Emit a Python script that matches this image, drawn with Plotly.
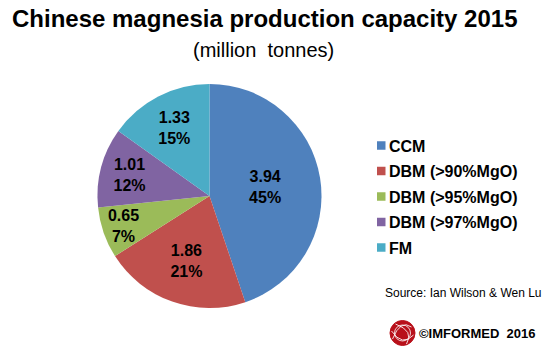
import plotly.graph_objects as go

categories = ["CCM", "DBM (>90%MgO)", "DBM (>95%MgO)", "DBM (>97%MgO)", "FM"]
values = [3.94, 1.86, 0.65, 1.01, 1.33]
pct_labels = ["45%", "21%", "7%", "12%", "15%"]
colors = ["#4F81BD", "#C0504D", "#9BBB59", "#8064A2", "#4BACC6"]

W, H = 551, 359
FONT = "Liberation Sans, Arial, sans-serif"
cx, cy, r = 209.5, 196, 112


def px(x):
    return x / W


def py(y):
    return 1 - y / H


fig = go.Figure(go.Pie(
    labels=categories,
    values=values,
    text=pct_labels,
    texttemplate="%{value:.2f}<br>%{text}",
    textposition="inside",
    insidetextorientation="horizontal",
    textfont=dict(family=FONT, size=16, color="black", weight="bold"),
    marker=dict(colors=colors, line=dict(width=0)),
    sort=False,
    direction="clockwise",
    rotation=0,
    showlegend=False,
    hoverinfo="label+value+percent",
    domain=dict(x=[px(cx - r), px(cx + r)], y=[py(cy + r), py(cy - r)]),
))

annotations = [
    dict(text="<b>Chinese magnesia production capacity 2015</b>", x=px(265), y=py(18.5),
         xanchor="center", yanchor="middle", font=dict(size=24)),
    dict(text="(million  tonnes)", x=px(263.5), y=py(49.5),
         xanchor="center", yanchor="middle", font=dict(size=20)),
    dict(text="Source: Ian Wilson &amp; Wen Lu", x=px(383), y=py(292.5),
         xanchor="left", yanchor="middle", font=dict(size=12)),
    dict(text="<b>©IMFORMED  2016</b>", x=px(417), y=py(333),
         xanchor="left", yanchor="middle", font=dict(size=13)),
]

shapes = []
# custom legend (square swatch + bold label), one row per category
leg_y0, leg_dy = 145.5, 25.5
for i, (name, col) in enumerate(zip(categories, colors)):
    yc = leg_y0 + i * leg_dy
    shapes.append(dict(type="rect", xref="paper", yref="paper",
                       x0=px(377), x1=px(385.5), y0=py(yc + 4.25), y1=py(yc - 4.25),
                       fillcolor=col, line=dict(width=0)))
    annotations.append(dict(text=f"<b>{name}</b>", x=px(387), y=py(yc + 0.5),
                            xanchor="left", yanchor="middle", font=dict(size=16)))

# logo
lx, ly, lr = 402.5, 333, 12.5
shapes += [
    dict(type="circle", xref="paper", yref="paper",
         x0=px(lx - lr), x1=px(lx + lr), y0=py(ly + lr), y1=py(ly - lr),
         fillcolor="#B8101A", line=dict(color="#B8101A", width=1)),
    dict(type="circle", xref="paper", yref="paper",
         x0=px(lx - 8), x1=px(lx + 8), y0=py(ly + 8), y1=py(ly - 8),
         fillcolor="rgba(0,0,0,0)", line=dict(color="rgba(255,255,255,0.8)", width=1)),
    dict(type="path", xref="paper", yref="paper",
         path=f"M {px(lx-10)},{py(ly+6)} Q {px(lx-2)},{py(ly-14)} {px(lx+9)},{py(ly-6)}",
         line=dict(color="rgba(255,255,255,0.85)", width=1)),
    dict(type="path", xref="paper", yref="paper",
         path=f"M {px(lx-7)},{py(ly-9)} Q {px(lx+12)},{py(ly-2)} {px(lx+4)},{py(ly+11)}",
         line=dict(color="rgba(255,255,255,0.85)", width=1)),
    dict(type="path", xref="paper", yref="paper",
         path=f"M {px(lx-11)},{py(ly-2)} Q {px(lx)},{py(ly+14)} {px(lx+11)},{py(ly+2)}",
         line=dict(color="rgba(255,255,255,0.85)", width=1)),
]

for a in annotations:
    a.update(xref="paper", yref="paper", showarrow=False)

fig.update_layout(
    width=W, height=H,
    margin=dict(l=0, r=0, t=0, b=0),
    paper_bgcolor="white",
    plot_bgcolor="white",
    font=dict(family=FONT, color="black"),
    uniformtext=dict(minsize=16, mode="show"),
    showlegend=False,
    annotations=annotations,
    shapes=shapes,
)

fig.write_html(
    "out.html",
    config={"displayModeBar": False},
    post_script="document.body.style.margin='0';document.body.style.padding='0';document.body.style.overflow='hidden';",
)
